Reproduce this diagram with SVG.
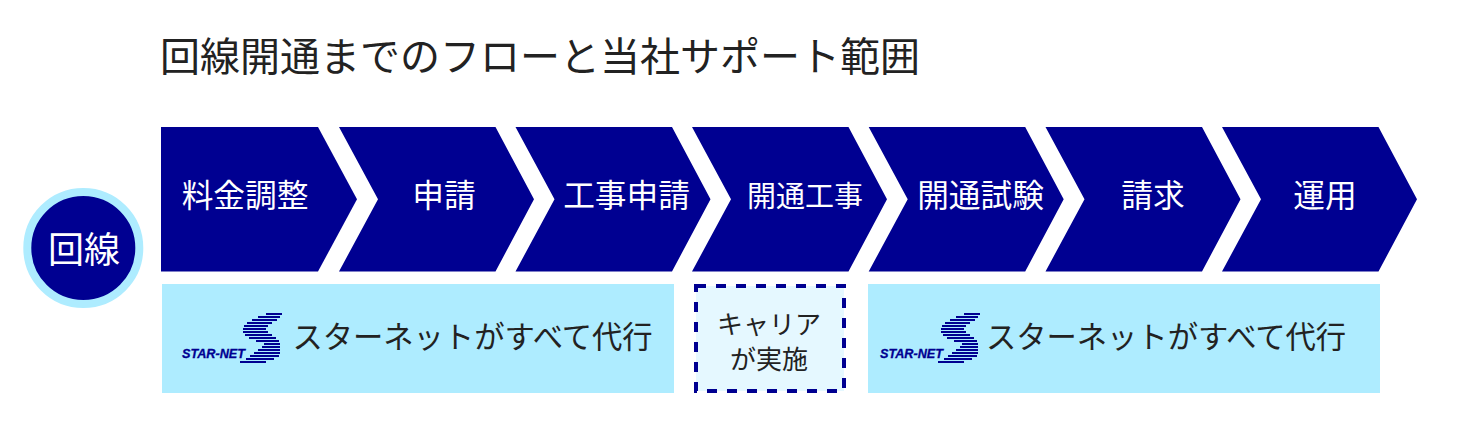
<svg xmlns="http://www.w3.org/2000/svg" xmlns:xlink="http://www.w3.org/1999/xlink" width="1472" height="430" viewBox="0 0 1472 430">
<style>
text{font-family:"Noto Sans CJK JP","Liberation Sans",sans-serif;text-anchor:middle}
.chev{fill:#000091}
.w{fill:#fff}
.d{fill:#222}
.lb{font-size:31.7px;fill:#fff}
.band{fill:#aeecff}
.logo-t{font-family:"Liberation Sans",Arial,sans-serif;font-weight:bold;font-style:italic;font-size:12px;fill:#000091;stroke:#000091;stroke-width:.3;text-anchor:start}
.st{stroke:#000091;stroke-width:1.9;fill:none}
</style>
<defs>
<polygon id="chevron" points="0,0 156.5,0 195,72.25 156.5,144.5 0,144.5 39,72.25"/>
<g id="logo">
<text class="logo-t" x="182" y="357.5" textLength="63" lengthAdjust="spacingAndGlyphs">STAR-NET</text>
<path class="st" d="M266 314H282M258 317H280M252 320H277M247 323H272M244 326H268M243 329H266M243 332H268M245 335H272M249 338H276M256 341H279M264 344H280M262 347H280M258 350H280M254 353H280M250 356H279M246 359H274M240 362H266"/>
</g>
</defs>
<text x="540" y="71" class="d" font-size="40">回線開通までのフローと当社サポート範囲</text>
<g id="node-kaisen">
<circle cx="83.3" cy="248" r="56" fill="#000091" stroke="#aeecff" stroke-width="8"/>
<text x="84" y="263" class="w" font-size="36">回線</text>
</g>
<g id="connectors"></g>
<g id="node-1"><polygon class="chev" points="161,127 318,127 357,199.25 318,271.5 161,271.5"/><text x="245" y="207" class="lb">料金調整</text></g>
<g id="node-2"><use class="chev" xlink:href="#chevron" x="339" y="127"/><text x="444" y="207" class="lb">申請</text></g>
<g id="node-3"><use class="chev" xlink:href="#chevron" x="515.5" y="127"/><text x="626.5" y="207" class="lb">工事申請</text></g>
<g id="node-4"><use class="chev" xlink:href="#chevron" x="692" y="127"/><text x="805" y="207" class="lb" style="font-size:29px">開通工事</text></g>
<g id="node-5"><use class="chev" xlink:href="#chevron" x="868.7" y="127"/><text x="980.5" y="207" class="lb">開通試験</text></g>
<g id="node-6"><use class="chev" xlink:href="#chevron" x="1045.5" y="127"/><text x="1153" y="207" class="lb">請求</text></g>
<g id="node-7"><use class="chev" xlink:href="#chevron" x="1222" y="127"/><text x="1325" y="207" class="lb">運用</text></g>
<g id="node-support-1">
<rect class="band" x="162" y="284" width="512" height="109"/>
<use xlink:href="#logo"/>
<text x="472.5" y="348" class="d" font-size="30.3">スターネットがすべて代行</text>
</g>
<g id="node-carrier">
<rect x="696" y="286" width="148" height="105" fill="#e5f8ff" stroke="#000091" stroke-width="4" stroke-dasharray="10 10"/>
<text x="769" y="334" class="d" font-size="26">キャリア</text>
<text x="769" y="369" class="d" font-size="26">が実施</text>
</g>
<g id="node-support-2">
<rect class="band" x="868" y="284" width="512" height="109"/>
<use xlink:href="#logo" x="698"/>
<text x="1166" y="348" class="d" font-size="30.3">スターネットがすべて代行</text>
</g>
</svg>
